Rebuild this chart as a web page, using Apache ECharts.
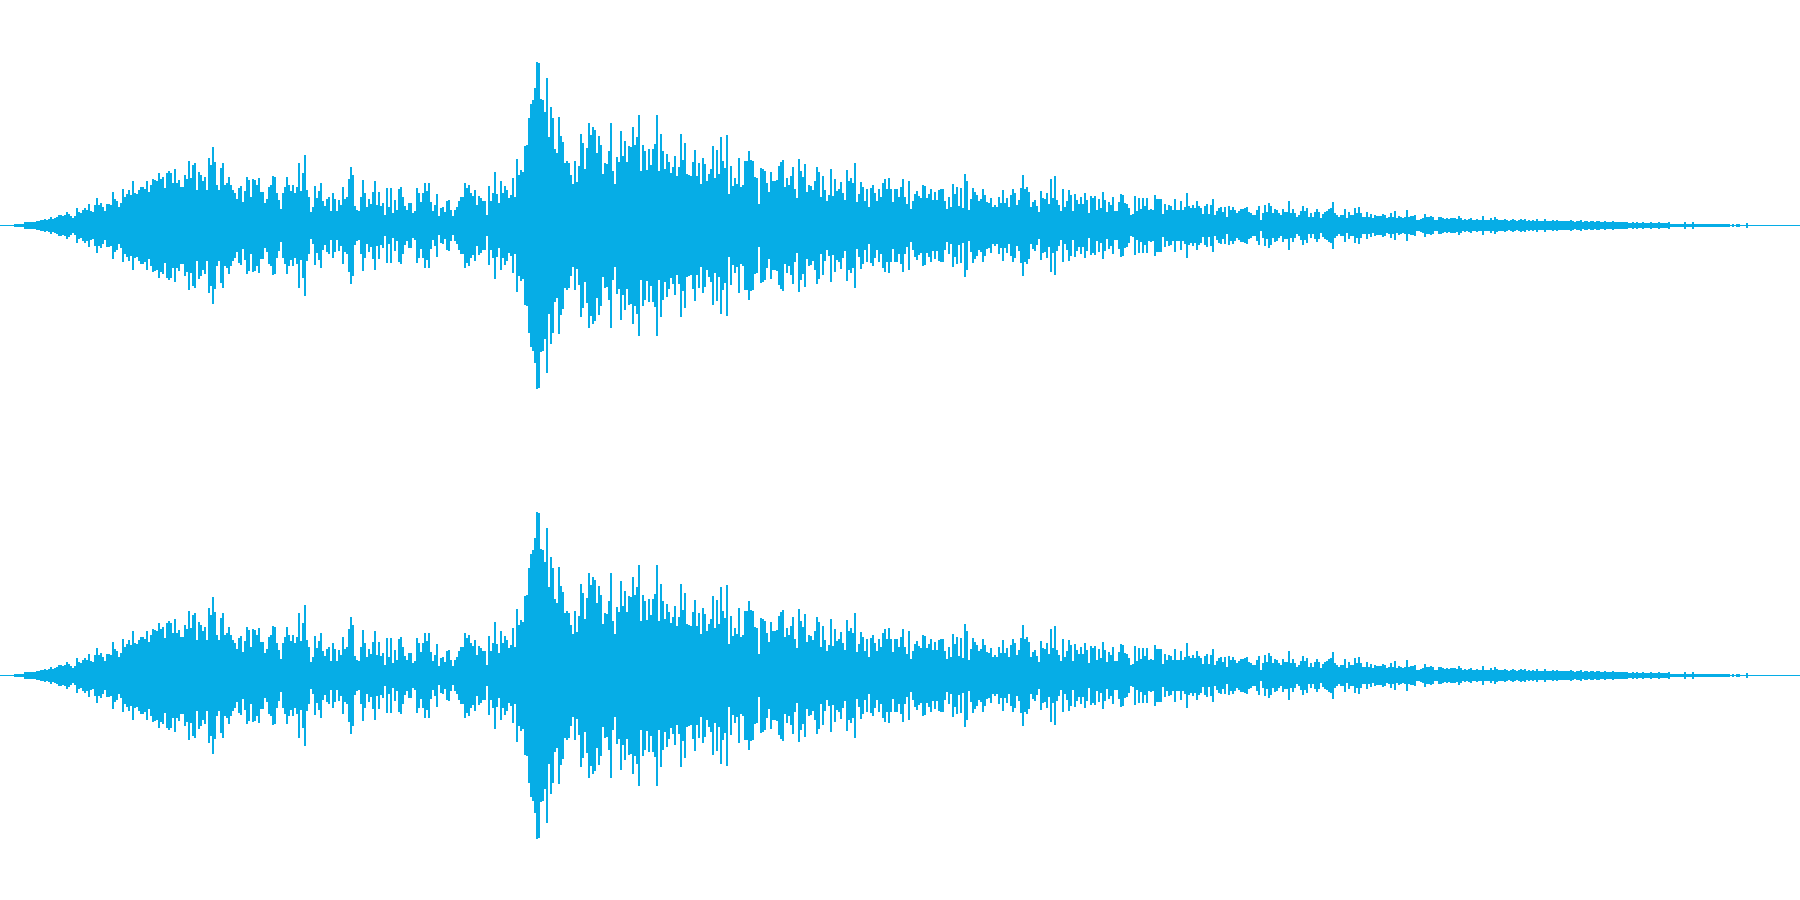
<!DOCTYPE html>
<html>
<head>
<meta charset="utf-8">
<style>html,body{margin:0;padding:0;background:#fff}#c{width:1800px;height:900px}</style>
<script src="https://cdn.jsdelivr.net/npm/echarts@6/dist/echarts.min.js"></script>
</head>
<body>
<div id="c"></div>
<script>
const fadeIn = [0,0,0,0,0,0,0,1,1,1,1,1,3,3,3,3,3,3,4,4,5,5,6,5,6,8,6,7,8,10,10,9,10,13,11,9,7,9,17,13,12,15,17,15,21,14,13,20,27,20,22,18,14,21,21,20,33,26,24,18,22,36,28,31,35,30,44,32,31,35,38,38,36,44,33,40,46,45,44,52,46,48,37,52,54,52,42,56,42,45,38,38,50,46,64,47,60,62,35,53,50,44,48,35,67,60,78,63,40,35,57,62,40,42,48,40,35,32,26,37,39,23,34,48,45,28,46,45,40,47];
const swell = [33,33,22,26,38,40,49,48,32,25,16,32,38,48,40,34,40,32,38,62,34,52,70,35,28,13,18,39,27,34,42,24,19,26,28,14,32,26,14,25,20,38,26,28,46,58,50,19,15,14,28,45,32,18,26,21,33,44,20,33,19,22,10,37,18,37,12,25,15,36,38,28,19,15,22,22,12,14,37,32,23,32,42,34,42,23,14,20,31,9,17,18,13,24,25,15,9,15,18,24,28,28,42,37,40,32,29,35,20,29,27,24,24,10,39,24,32,53,31,22,44,32,39,35,27,30,47,28,66,50];
const burst = [55,53,79,80,107,121,125,137,163,162,126,125,113,147,88,118,107,76,72,108,89,83,62,64,62,50,41,64,43,59,91,82,56,77,102,90,98,95,72,89,80,51,62,61,74,102,54,41,68,63,94,69,84,63,79,78,98,80,88,110,54,80,74,55,76,60,76,81,110,54,91,74,56,71,63,52,58,69,49,58,91,65,82,51,50,49,63,75,49,62,41,67,61,44,51,56,79,47,75,51,88,64,57,90,31,59,39,47,41,67,38,40,64,64,74,65,64,48,47,21,57];
const decayA = [56,54,42,33,53,44,44,45,59,63,65,38,47,40,49,58,36,27,66,54,48,61,33,40,39,35,44,58,53,28,49,35,24,30,56,29,46,34,36,43,32,25,55,44,47,42,62,23,31,43,38,24,36,18,37,40,32,24,36,28,42,46,36,47,36,23,36,36,28,38,46,28,21,44,16,24,31,34,29,27,40,39,27,31,36,25,33,25,35,36,36,24,16,28,18,41,31,38,19,37,17,51,44,15,26,37,33,30,24,26,36,30,23,22,27,18,20,18,28];
const decayB = [22,35,22,27,18,30,36,32,20,25,37,50,36,38,33,18,23,25,19,13,34,27,26,32,21,46,27,49,25,20,14,36,18,24,35,30,14,31,25,21,28,21,32,25,12,29,27,29,15,26,17,33,25,13,23,20,28,14,14,23,31,30,22,21,17,10,11,29,14,27,16,27,19,27,15,16,15,30,26,26,26,11,21,15,20,19,15,26,15,15,24,15,18,32,19,17,20,17,24,19,17,11,19,21,11,20,26,10,14,17,18,13,18,8,19,15,18,15,12,14];
const tailA = [16,16,17,18,13,12,10,10,15,19,5,12,20,13,22,19,12,16,15,12,10,16,13,13,24,12,16,12,8,10,14,19,14,17,8,12,8,13,16,13,7,11,13,14,16,17,23,12,10,8,10,10,16,7,13,10,10,17,12,18,12,8,8,13,8,11,7,10,9,9,9,11,10,7,8,12,8,14,7,9,8,7,8,15,8,9,9,10,5,5,6,7,11,8,8,9,8,5,5,8,8,7,6,7,6,7,7,7,6,9,7,5,6,5,6,7,5,5,6,5,5,9,5,5,5,7,5,8,6,5];
const tailB = [5,5,6,5,4,5,6,5,4,5,6,5,6,4,5,4,5,4,6,4,4,4,6,4,4,4,5,4,5,4,4,4,4,4,4,5,4,3,4,4,5,3,4,4,3,4,4,3,4,4,3,3,4,3,3,3,4,3,3,3,3,3,3,3,2,2,3,2,3,2,2,3,2,2,2,3,2,2,2,3,2,2,2,2,3,1,1,1,1,1,1,1,3,1,1,1,3,1,1,1,1,1,1,1,1,1,1,1,1,1,1,1,1,1,1,0,1,0,1,1,0,0,0,2,0,0,0,0,0,0,0,0,0,0,0,0,0,0,0,0,0,0,0,0,0,0,0,0,0,0];

const peaks = [].concat(fadeIn, swell, burst, decayA, decayB, tailA, tailB);
const troughs = peaks.map(v => -(v + 1));
const blockIndex = Array.from({length: 900}, (_, i) => i);
const waveColor = '#06ade6';

const channels = [0, 1];
const chart = echarts.init(document.getElementById('c'), null, {renderer: 'canvas'});
const bar = (values, ch) => ({
  type: 'bar', data: values, xAxisIndex: ch, yAxisIndex: ch,
  barGap: '-100%', barCategoryGap: 0, silent: true,
  itemStyle: {color: waveColor}, animation: false
});
chart.setOption({
  animation: false,
  backgroundColor: '#ffffff',
  grid: channels.map(ch => ({left: 0, right: 0, top: ch * 450, height: 450})),
  xAxis: channels.map(ch => ({type: 'category', gridIndex: ch, data: blockIndex, show: false})),
  yAxis: channels.map(ch => ({type: 'value', gridIndex: ch, min: -225, max: 225, show: false})),
  series: channels.flatMap(ch => [bar(peaks, ch), bar(troughs, ch)])
});
</script>
</body>
</html>
